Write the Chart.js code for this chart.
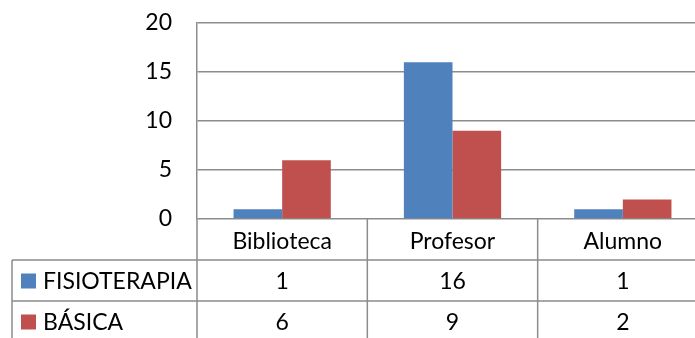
<!DOCTYPE html>
<html>
<head>
<meta charset="utf-8">
<script src="https://cdn.jsdelivr.net/npm/chart.js@4"></script>
<style>
  html, body { margin: 0; padding: 0; background: #fff; overflow: hidden; }
  #wrap { width: 710px; height: 338px; }
</style>
</head>
<body>
<div id="wrap"><canvas id="chart" width="710" height="338"></canvas></div>
<script>
const categories = ['Biblioteca', 'Profesor', 'Alumno'];
const fisioterapia = [1, 16, 1];
const basica = [6, 9, 2];
const seriesNames = ['FISIOTERAPIA', 'BÁSICA'];
const seriesColors = ['#4F81BD', '#C0504D'];
const yTicks = [0, 5, 10, 15, 20];

const FONT = 'Lato, "Open Sans", sans-serif';
const FSIZE = 23;
const LINE = '#8c8c8c';

// draws the Excel-style data table under the plot
const dataTable = {
  id: 'dataTable',
  afterDraw(chart) {
    const { ctx, chartArea, scales } = chart;
    const x = scales.x;
    const top = chartArea.bottom;
    const r1 = 260;              // top of first series row
    const rowH = 41;
    const r2 = r1 + rowH;        // top of second series row
    const bottom = chart.height;
    const tableLeft = 12;
    const step = x.getPixelForValue(1) - x.getPixelForValue(0);
    const bounds = categories.map((c, i) => x.getPixelForValue(i) - step / 2);
    bounds.push(x.getPixelForValue(categories.length - 1) + step / 2);

    ctx.save();
    ctx.strokeStyle = LINE;
    ctx.lineWidth = 1.5;
    ctx.beginPath();
    // category separators
    bounds.forEach(b => { ctx.moveTo(b, top); ctx.lineTo(b, bottom); });
    // row lines
    ctx.moveTo(tableLeft, r1); ctx.lineTo(bounds[bounds.length - 1], r1);
    ctx.moveTo(tableLeft, r2); ctx.lineTo(bounds[bounds.length - 1], r2);
    ctx.moveTo(tableLeft, r1); ctx.lineTo(tableLeft, bottom);
    ctx.stroke();

    ctx.font = FSIZE + 'px ' + FONT;
    ctx.fillStyle = '#000';
    ctx.textBaseline = 'middle';
    const rows = [fisioterapia, basica];
    rows.forEach((vals, ri) => {
      const cy = r1 + rowH * ri + rowH / 2 + 1;
      ctx.fillStyle = seriesColors[ri];
      ctx.fillRect(21, cy - 8, 15, 15);
      ctx.fillStyle = '#000';
      ctx.textAlign = 'left';
      ctx.fillText(seriesNames[ri], 43, cy);
      ctx.textAlign = 'center';
      vals.forEach((v, ci) => ctx.fillText(String(v), x.getPixelForValue(ci), cy));
    });
    ctx.restore();
  }
};

new Chart(document.getElementById('chart'), {
  type: 'bar',
  data: {
    labels: categories,
    datasets: [
      { label: seriesNames[0], data: fisioterapia, backgroundColor: seriesColors[0],
        categoryPercentage: 0.571, barPercentage: 1 },
      { label: seriesNames[1], data: basica, backgroundColor: seriesColors[1],
        categoryPercentage: 0.571, barPercentage: 1 }
    ]
  },
  options: {
    responsive: false,
    animation: false,
    layout: { padding: { top: 23, right: 2, left: 0, bottom: 0 } },
    plugins: { legend: { display: false }, tooltip: { enabled: false } },
    scales: {
      x: {
        grid: { display: false },
        border: { display: false },
        ticks: { color: '#000', font: { family: FONT, size: FSIZE }, padding: 1 },
        afterFit(s) { s.height = 119; s.paddingLeft = 0; s.paddingRight = 0; }
      },
      y: {
        min: 0, max: 20,
        afterBuildTicks(s) { s.ticks = yTicks.map(v => ({ value: v })); },
        grid: { color: LINE, lineWidth: 1.5, drawTicks: false },
        border: { color: LINE, width: 1.5 },
        ticks: { color: '#000', font: { family: FONT, size: FSIZE, lineHeight: 1 }, padding: 25 },
        afterFit(s) { s.width = 197; s.paddingTop = 0; s.paddingBottom = 0; }
      }
    }
  },
  plugins: [dataTable]
});
</script>
</body>
</html>
